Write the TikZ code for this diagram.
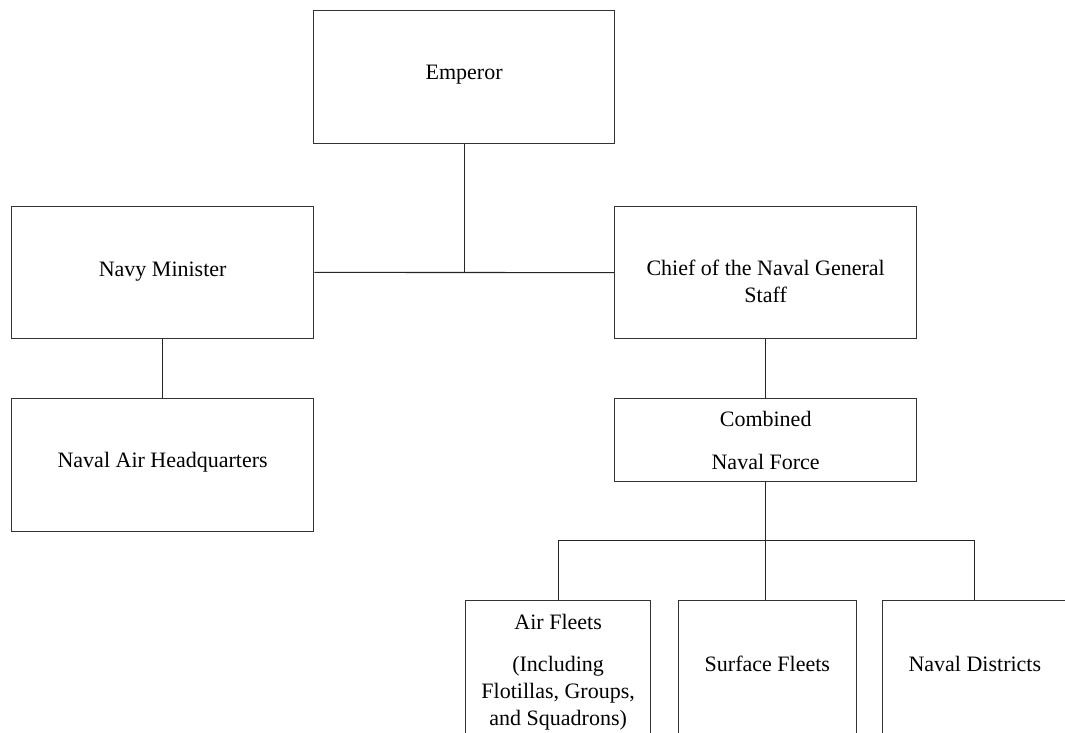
\documentclass[tikz,border=0pt]{standalone}
\usepackage{fontspec}
\setmainfont{Liberation Serif}
\begin{document}
\begin{tikzpicture}[x=1pt, y=-1pt,
  box/.style={draw=black!80, line width=1.3pt, rectangle, inner sep=0pt,
              anchor=north west},
  link/.style={draw=black!85, line width=1.1pt},
  % multi-line labels sit on the baseline of their last line
  txt/.style={inner sep=0pt, anchor=base, align=center,
              font=\fontsize{22}{27}\selectfont}]
  \useasboundingbox (0,0) rectangle (1065,732);
  \clip (0,0) rectangle (1065,732);

  % boxes of the chart
  \node[box, minimum width=301pt, minimum height=132.7pt] (emperor) at (313,10) {};
  \node[box, minimum width=302pt, minimum height=132pt]   (navy)    at (11,205.7) {};
  \node[box, minimum width=302pt, minimum height=132.7pt] (nahq)    at (11,398) {};
  \node[box, minimum width=302pt, minimum height=132pt]   (chief)   at (614,206) {};
  \node[box, minimum width=302pt, minimum height=82.7pt]  (comb)    at (614,398) {};
  \node[box, minimum width=185pt, minimum height=170pt]   (airf)    at (465,600) {};
  \node[box, minimum width=178pt, minimum height=170pt]   (surf)    at (677.7,600) {};
  \node[box, minimum width=185pt, minimum height=170pt]   (dist)    at (881.7,600) {};

  % labels
  \node[txt] (emperor-t) at (emperor.center |- 0,79)    {Emperor};
  \node[txt] (navy-t)    at (navy.center |- 0,276.5)    {Navy Minister};
  \node[txt] (nahq-t)    at (nahq.center |- 0,467)      {Naval Air Headquarters};
  \node[txt, font=\fontsize{22}{27.5}\selectfont] (chief-t) at (chief.center |- 0,302.8)
        {Chief of the Naval General\\Staff};
  \node[txt] (comb-t)    at (comb.center |- 0,469)
        {Combined\\[15.5pt]Naval Force};
  \node[txt] (airf-t)    at (airf.center |- 0,725)
        {Air Fleets\\[14.5pt](Including\\Flotillas, Groups,\\and Squadrons)};
  \node[txt] (surf-t)    at (surf.center |- 0,671)      {Surface Fleets};
  \node[txt] (dist-t)    at (dist.center |- 0,671)      {Naval Districts};

  % connectors
  \coordinate (bus) at (765,540.7);
  \draw[link] (emperor.south) -- (emperor.south |- navy.east);
  \draw[link] (navy.east) -- (chief.west);
  \draw[link] (navy.south) -- (nahq.north);
  \draw[link] (chief.south) -- (comb.north);
  \draw[link] (comb.south) -- (comb.south |- surf.north);
  \draw[link] (airf.north) |- (bus) -| (dist.north);
\end{tikzpicture}
\end{document}
